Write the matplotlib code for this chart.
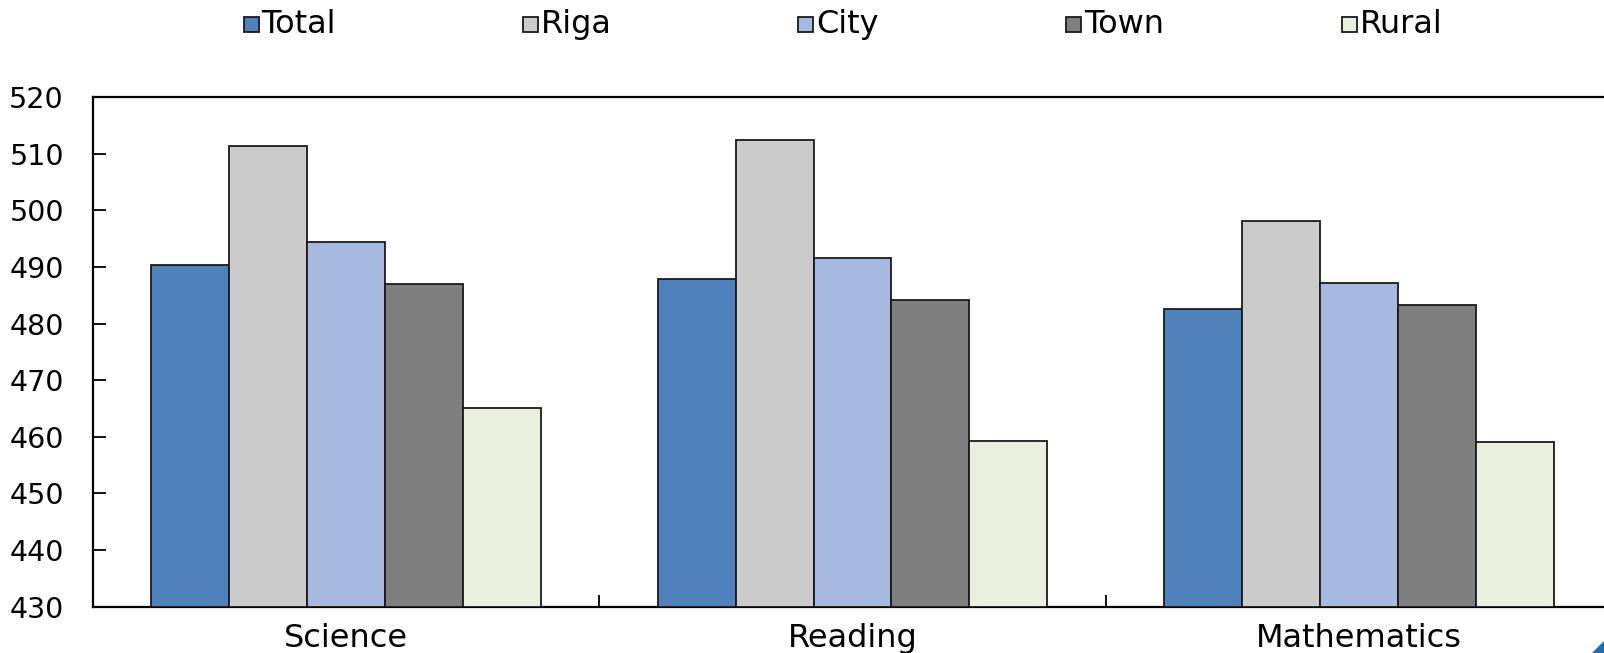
import matplotlib
matplotlib.use("Agg")
import matplotlib.pyplot as plt
import numpy as np
from matplotlib.patches import Rectangle, Polygon

plt.rcParams['font.family'] = ['DejaVu Sans']

subjects = ["Science", "Reading", "Mathematics"]
series = ["Total", "Riga", "City", "Town", "Rural"]
total = [490.4, 487.9, 482.5]
riga = [511.4, 512.4, 498.2]
city = [494.4, 491.5, 487.2]
town = [487.0, 484.2, 483.2]
rural = [465.0, 459.2, 459.0]
colors = ["#4F81BD", "#CBCBCB", "#A7B9E1", "#7F7F7F", "#EBEFDE"]
yticks = [430, 440, 450, 460, 470, 480, 490, 500, 510, 520]

W, H = 1604, 653
fig = plt.figure(figsize=(W / 100, H / 100), dpi=100)
ax = fig.add_axes([93 / W, (H - 606.5) / H, (1612 - 93) / W, (606.5 - 97.2) / H])

values = [total, riga, city, town, rural]
x = np.arange(len(subjects))
bw = 0.154
for i, (name, vals, c) in enumerate(zip(series, values, colors)):
    ax.bar(x + (i - 2) * bw, np.array(vals) - 430, bottom=430, width=bw,
           color=c, edgecolor="#1a1a1a", linewidth=1.3, label=name, zorder=3)

ax.set_ylim(430, 520)
ax.set_xlim(-0.5, len(subjects) - 0.5)
ax.set_yticks(yticks)
ax.set_yticklabels([str(v) for v in yticks])
ax.tick_params(axis='y', direction='in', length=9, width=1.3, pad=21,
               labelsize=20.5, colors='black')

# category labels in the centre, tick marks on the group boundaries
ax.set_xticks(x)
ax.set_xticklabels(subjects)
ax.tick_params(axis='x', which='major', length=0, pad=12, labelsize=23)
ax.set_xticks(np.arange(0.5, len(subjects) - 0.5, 1.0), minor=True)
ax.tick_params(axis='x', which='minor', direction='in', length=9, width=1.3)

for s in ['left', 'bottom', 'top']:
    ax.spines[s].set_linewidth(1.6)
    ax.spines[s].set_color('black')
ax.spines['right'].set_visible(False)

# legend row across the top
marker_x = [243.5, 522.7, 797.9, 1065.9, 1342.0]
ly = 24.5
sq = 15
for mx, name, c in zip(marker_x, series, colors):
    fig.patches.append(Rectangle((mx / W, (H - ly - sq / 2) / H), sq / W, sq / H,
                                 transform=fig.transFigure, facecolor=c,
                                 edgecolor="#1a1a1a", linewidth=1.3))
    fig.text((mx + sq + 3) / W, (H - ly) / H, name, fontsize=23,
             va='center', ha='left')

# corner accent
fig.patches.append(Polygon([(1592 / W, 0), (1 + 2 / W, 14 / H), (1 + 2 / W, 0)],
                           closed=True, transform=fig.transFigure,
                           facecolor="#1F6FAF", edgecolor='none'))

fig.savefig("out.png", dpi=100)
